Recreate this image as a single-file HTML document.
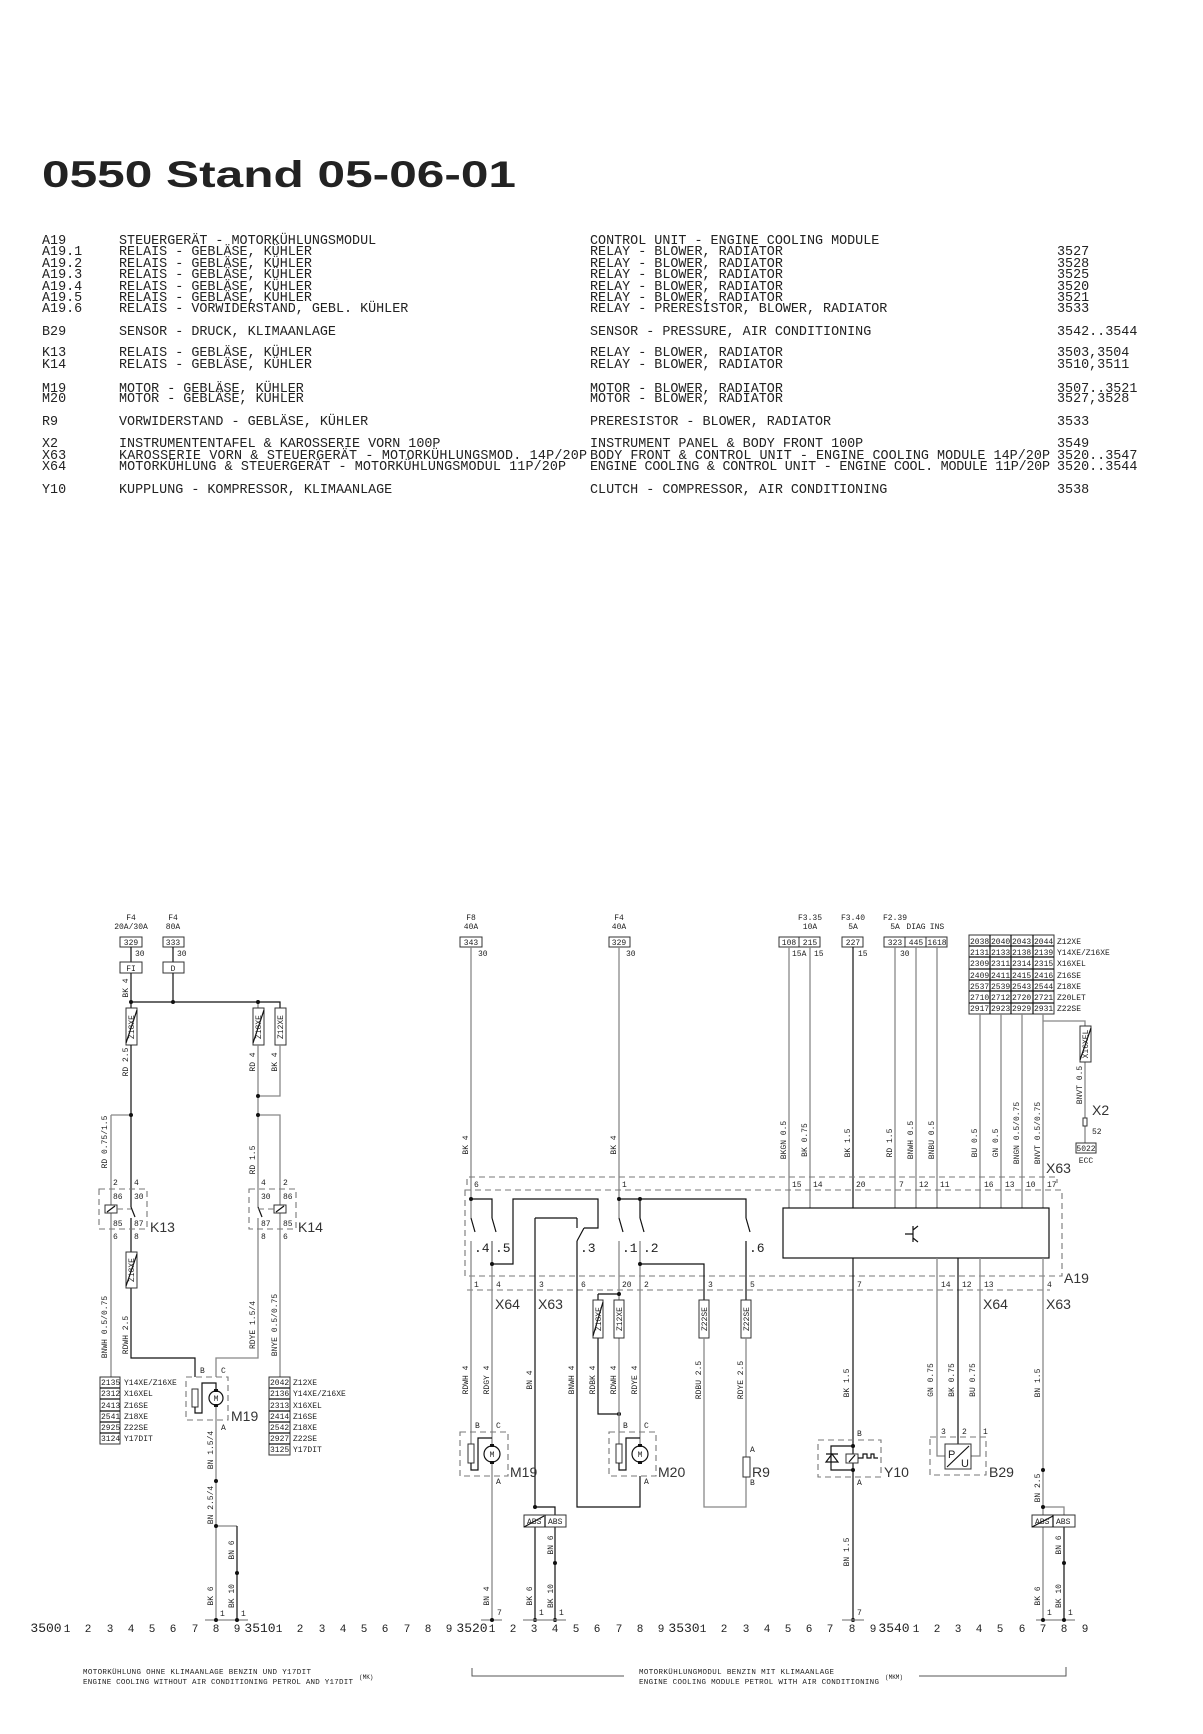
<!DOCTYPE html>
<html><head><meta charset="utf-8"><style>
html,body{margin:0;padding:0;background:#fff;}
svg{display:block}
.g{stroke:#888;stroke-width:1.3;fill:none}
.k{stroke:#111;stroke-width:1.2;fill:none}
.d{stroke:#777;stroke-width:1.1;fill:none;stroke-dasharray:6 4}
.bx{stroke:#333;stroke-width:1;fill:#fff}
text{font-family:"Liberation Mono",monospace;fill:#222}
.lg{font-size:13.4px;fill:#444}
.s{font-size:8px}
.m{text-anchor:middle}
.L{font-family:"Liberation Sans",sans-serif;font-size:14px;fill:#333}
.n{font-family:"Liberation Sans",sans-serif;font-size:11px;fill:#444}
.f{font-size:7.5px}
</style></head><body>
<svg width="1203" height="1734" viewBox="0 0 1203 1734" xmlns="http://www.w3.org/2000/svg">
<text x="42" y="187" textLength="474" lengthAdjust="spacingAndGlyphs" style="font-family:'Liberation Sans',sans-serif;font-size:37px;font-weight:bold;fill:#222">0550 Stand 05-06-01</text>

<g class="lg">
<text x="42" y="244">A19</text><text x="119" y="244">STEUERGERÄT - MOTORKÜHLUNGSMODUL</text><text x="590" y="244">CONTROL UNIT - ENGINE COOLING MODULE</text>
<text x="42" y="255">A19.1</text><text x="119" y="255">RELAIS - GEBLÄSE, KÜHLER</text><text x="590" y="255">RELAY - BLOWER, RADIATOR</text><text x="1057" y="255">3527</text>
<text x="42" y="267">A19.2</text><text x="119" y="267">RELAIS - GEBLÄSE, KÜHLER</text><text x="590" y="267">RELAY - BLOWER, RADIATOR</text><text x="1057" y="267">3528</text>
<text x="42" y="278">A19.3</text><text x="119" y="278">RELAIS - GEBLÄSE, KÜHLER</text><text x="590" y="278">RELAY - BLOWER, RADIATOR</text><text x="1057" y="278">3525</text>
<text x="42" y="290">A19.4</text><text x="119" y="290">RELAIS - GEBLÄSE, KÜHLER</text><text x="590" y="290">RELAY - BLOWER, RADIATOR</text><text x="1057" y="290">3520</text>
<text x="42" y="301">A19.5</text><text x="119" y="301">RELAIS - GEBLÄSE, KÜHLER</text><text x="590" y="301">RELAY - BLOWER, RADIATOR</text><text x="1057" y="301">3521</text>
<text x="42" y="312">A19.6</text><text x="119" y="312">RELAIS - VORWIDERSTAND, GEBL. KÜHLER</text><text x="590" y="312">RELAY - PRERESISTOR, BLOWER, RADIATOR</text><text x="1057" y="312">3533</text>
<text x="42" y="335">B29</text><text x="119" y="335">SENSOR - DRUCK, KLIMAANLAGE</text><text x="590" y="335">SENSOR - PRESSURE, AIR CONDITIONING</text><text x="1057" y="335">3542..3544</text>
<text x="42" y="356">K13</text><text x="119" y="356">RELAIS - GEBLÄSE, KÜHLER</text><text x="590" y="356">RELAY - BLOWER, RADIATOR</text><text x="1057" y="356">3503,3504</text>
<text x="42" y="368">K14</text><text x="119" y="368">RELAIS - GEBLÄSE, KÜHLER</text><text x="590" y="368">RELAY - BLOWER, RADIATOR</text><text x="1057" y="368">3510,3511</text>
<text x="42" y="392">M19</text><text x="119" y="392">MOTOR - GEBLÄSE, KÜHLER</text><text x="590" y="392">MOTOR - BLOWER, RADIATOR</text><text x="1057" y="392">3507..3521</text>
<text x="42" y="402">M20</text><text x="119" y="402">MOTOR - GEBLÄSE, KÜHLER</text><text x="590" y="402">MOTOR - BLOWER, RADIATOR</text><text x="1057" y="402">3527,3528</text>
<text x="42" y="425">R9</text><text x="119" y="425">VORWIDERSTAND - GEBLÄSE, KÜHLER</text><text x="590" y="425">PRERESISTOR - BLOWER, RADIATOR</text><text x="1057" y="425">3533</text>
<text x="42" y="447">X2</text><text x="119" y="447">INSTRUMENTENTAFEL &amp; KAROSSERIE VORN 100P</text><text x="590" y="447">INSTRUMENT PANEL &amp; BODY FRONT 100P</text><text x="1057" y="447">3549</text>
<text x="42" y="459">X63</text><text x="119" y="459" textLength="468">KAROSSERIE VORN &amp; STEUERGERÄT - MOTORKÜHLUNGSMOD. 14P/20P</text><text x="590" y="459" textLength="460">BODY FRONT &amp; CONTROL UNIT - ENGINE COOLING MODULE 14P/20P</text><text x="1057" y="459">3520..3547</text>
<text x="42" y="470">X64</text><text x="119" y="470" textLength="447">MOTORKÜHLUNG &amp; STEUERGERÄT - MOTORKÜHLUNGSMODUL 11P/20P</text><text x="590" y="470" textLength="460">ENGINE COOLING &amp; CONTROL UNIT - ENGINE COOL. MODULE 11P/20P</text><text x="1057" y="470">3520..3544</text>
<text x="42" y="493">Y10</text><text x="119" y="493">KUPPLUNG - KOMPRESSOR, KLIMAANLAGE</text><text x="590" y="493">CLUTCH - COMPRESSOR, AIR CONDITIONING</text><text x="1057" y="493">3538</text>
</g>

<!-- ===== LEFT SECTION ===== -->
<g class="s">
<text class="m" x="131" y="920">F4</text><text class="m" x="131" y="929">20A/30A</text>
<text class="m" x="173" y="920">F4</text><text class="m" x="173" y="929">80A</text>
<text x="135" y="956">30</text><text x="177" y="956">30</text>
</g>
<rect class="bx" x="120" y="937" width="22" height="10"/><text class="s m" x="131" y="945">329</text>
<rect class="bx" x="163" y="937" width="21" height="10"/><text class="s m" x="173" y="945">333</text>
<path class="k" d="M131 947V962M173 947V962"/>
<rect class="bx" x="120" y="962" width="22" height="11"/><text class="s m" x="131" y="971">FI</text>
<rect class="bx" x="163" y="962" width="21" height="11"/><text class="s m" x="173" y="971">D</text>
<path class="k" d="M131 973V1008M173 973V1002M131 1002H280V1008"/>
<path class="g" d="M258 1002V1008"/>
<rect class="bx" x="126" y="1008" width="11" height="37"/><rect class="bx" x="253" y="1008" width="11" height="37"/><rect class="bx" x="275" y="1008" width="11" height="37"/>
<path class="k" d="M126 1043L137 1010M253 1043L264 1010"/>
<text class="s m" transform="rotate(-90 134 1027)" x="134" y="1027">Z18XE</text>
<text class="s m" transform="rotate(-90 261 1027)" x="261" y="1027">Z18XE</text>
<text class="s m" transform="rotate(-90 283 1027)" x="283" y="1027">Z12XE</text>
<path class="k" d="M131 1045V1207M131 1218V1252M131 1288V1358H195V1377"/>
<path class="k" d="M131 1207L135 1217"/>
<path class="g" d="M111 1115H131M111 1115V1377"/>
<path class="g" d="M258 1045V1207M280 1045V1096H258M258 1218V1358H216V1377M258 1115H280V1377"/>
<path class="k" d="M258 1207L262 1217"/>
<rect class="d" x="99" y="1189" width="48" height="40"/>
<rect class="d" x="249" y="1189" width="47" height="40"/>
<rect class="bx" x="105" y="1205" width="12" height="8"/><rect class="bx" x="274" y="1205" width="12" height="8"/>
<path class="k" d="M107 1212L115 1206M276 1212L284 1206"/>
<path class="d" d="M117 1209H131M258 1209H274"/>
<g fill="#111"><circle cx="131" cy="1002" r="2"/><circle cx="173" cy="1002" r="2"/><circle cx="258" cy="1002" r="2"/><circle cx="131" cy="1115" r="2"/><circle cx="258" cy="1096" r="2"/><circle cx="258" cy="1115" r="2"/></g>
<g class="s">
<text x="113" y="1185">2</text><text x="134" y="1185">4</text><text x="113" y="1199">86</text><text x="134" y="1199">30</text>
<text x="113" y="1226">85</text><text x="134" y="1226">87</text><text x="113" y="1239">6</text><text x="134" y="1239">8</text>
<text x="261" y="1185">4</text><text x="283" y="1185">2</text><text x="261" y="1199">30</text><text x="283" y="1199">86</text>
<text x="261" y="1226">87</text><text x="283" y="1226">85</text><text x="261" y="1239">8</text><text x="283" y="1239">6</text>
</g>
<text class="L" x="150" y="1232">K13</text><text class="L" x="298" y="1232">K14</text>
<rect class="bx" x="126" y="1252" width="11" height="36"/><path class="k" d="M126 1286L137 1254"/>
<text class="s m" transform="rotate(-90 134 1270)" x="134" y="1270">Z18XE</text>
<g class="s">
<text class="m" transform="rotate(-90 128 988)" x="128" y="988">BK 4</text>
<text class="m" transform="rotate(-90 128 1062)" x="128" y="1062">RD 2.5</text>
<text class="m" transform="rotate(-90 107 1142)" x="107" y="1142">RD 0.75/1.5</text>
<text class="m" transform="rotate(-90 255 1062)" x="255" y="1062">RD 4</text>
<text class="m" transform="rotate(-90 277 1062)" x="277" y="1062">BK 4</text>
<text class="m" transform="rotate(-90 255 1160)" x="255" y="1160">RD 1.5</text>
<text class="m" transform="rotate(-90 107 1327)" x="107" y="1327">BNWH 0.5/0.75</text>
<text class="m" transform="rotate(-90 128 1335)" x="128" y="1335">RDWH 2.5</text>
<text class="m" transform="rotate(-90 255 1325)" x="255" y="1325">RDYE 1.5/4</text>
<text class="m" transform="rotate(-90 277 1325)" x="277" y="1325">BNYE 0.5/0.75</text>
</g>
<g class="s">
<rect class="bx" x="100" y="1377" width="20" height="67"/>
<path class="k" d="M100 1388H120M100 1399H120M100 1411H120M100 1422H120M100 1433H120"/>
<text x="101" y="1385">2135</text><text x="124" y="1385">Y14XE/Z16XE</text>
<text x="101" y="1396">2312</text><text x="124" y="1396">X16XEL</text>
<text x="101" y="1408">2413</text><text x="124" y="1408">Z16SE</text>
<text x="101" y="1419">2541</text><text x="124" y="1419">Z18XE</text>
<text x="101" y="1430">2925</text><text x="124" y="1430">Z22SE</text>
<text x="101" y="1441">3124</text><text x="124" y="1441">Y17DIT</text>
<rect class="bx" x="269" y="1377" width="21" height="78"/>
<path class="k" d="M269 1388H290M269 1399H290M269 1411H290M269 1422H290M269 1433H290M269 1444H290"/>
<text x="270" y="1385">2042</text><text x="293" y="1385">Z12XE</text>
<text x="270" y="1396">2136</text><text x="293" y="1396">Y14XE/Z16XE</text>
<text x="270" y="1408">2313</text><text x="293" y="1408">X16XEL</text>
<text x="270" y="1419">2414</text><text x="293" y="1419">Z16SE</text>
<text x="270" y="1430">2542</text><text x="293" y="1430">Z18XE</text>
<text x="270" y="1441">2927</text><text x="293" y="1441">Z22SE</text>
<text x="270" y="1452">3125</text><text x="293" y="1452">Y17DIT</text>
</g>
<rect class="d" x="186" y="1377" width="42" height="43"/>
<rect class="bx" x="192" y="1389" width="6" height="18"/>
<path class="k" d="M195 1407V1413H202V1383H216V1390"/>
<circle cx="216" cy="1398" r="7" class="k" fill="#fff"/><text class="s m" x="216" y="1401">M</text>
<rect x="214" y="1389" width="4" height="3" fill="#111"/><rect x="214" y="1404" width="4" height="3" fill="#111"/>
<path class="g" d="M216 1407V1620M216 1526H237"/><path class="k" d="M237 1526V1620"/>
<path class="g" d="M205 1620H248"/>
<g fill="#111"><circle cx="216" cy="1481" r="2"/><circle cx="216" cy="1526" r="2"/><circle cx="237" cy="1573" r="2"/><circle cx="216" cy="1620" r="2"/><circle cx="237" cy="1620" r="2"/></g>
<g class="s">
<text x="200" y="1373">B</text><text x="221" y="1373">C</text><text x="221" y="1430">A</text>
<text x="220" y="1616">1</text><text x="241" y="1616">1</text>
<text class="m" transform="rotate(-90 213 1450)" x="213" y="1450">BN 1.5/4</text>
<text class="m" transform="rotate(-90 213 1505)" x="213" y="1505">BN 2.5/4</text>
<text class="m" transform="rotate(-90 234 1550)" x="234" y="1550">BN 6</text>
<text class="m" transform="rotate(-90 213 1596)" x="213" y="1596">BK 6</text>
<text class="m" transform="rotate(-90 234 1596)" x="234" y="1596">BK 10</text>
</g>
<text class="L" x="231" y="1421">M19</text>

<!-- ===== MIDDLE / RIGHT SECTION ===== -->
<g class="s">
<text class="m" x="471" y="920">F8</text><text class="m" x="471" y="929">40A</text>
<text class="m" x="619" y="920">F4</text><text class="m" x="619" y="929">40A</text>
<text class="m" x="810" y="920">F3.35</text><text class="m" x="810" y="929">10A</text>
<text class="m" x="853" y="920">F3.40</text><text class="m" x="853" y="929">5A</text>
<text class="m" x="895" y="920">F2.39</text><text class="m" x="895" y="929">5A</text><text class="m" x="916" y="929">DIAG</text><text class="m" x="937" y="929">INS</text>
<text x="478" y="956">30</text><text x="626" y="956">30</text><text x="792" y="956">15A</text><text x="814" y="956">15</text><text x="858" y="956">15</text><text x="900" y="956">30</text>
</g>
<rect class="bx" x="460" y="937" width="22" height="10"/><text class="s m" x="471" y="945">343</text>
<rect class="bx" x="609" y="937" width="21" height="10"/><text class="s m" x="619" y="945">329</text>
<rect class="bx" x="779" y="937" width="20" height="10"/><text class="s m" x="789" y="945">108</text>
<rect class="bx" x="799" y="937" width="21" height="10"/><text class="s m" x="810" y="945">215</text>
<rect class="bx" x="842" y="937" width="21" height="10"/><text class="s m" x="853" y="945">227</text>
<rect class="bx" x="884" y="937" width="21" height="10"/><text class="s m" x="895" y="945">323</text>
<rect class="bx" x="905" y="937" width="21" height="10"/><text class="s m" x="916" y="945">445</text>
<rect class="bx" x="926" y="937" width="21" height="10"/><text class="s m" x="937" y="945">1618</text>
<rect class="bx" x="969" y="935" width="85" height="79"/>
<path class="k" d="M969 946H1054M969 957H1054M969 969H1054M969 980H1054M969 991H1054M969 1003H1054M990 935V1014M1011 935V1014M1033 935V1014"/>
<g class="s">
<text x="970" y="944">2038</text><text x="991" y="944">2040</text><text x="1012" y="944">2043</text><text x="1034" y="944">2044</text><text x="1057" y="944">Z12XE</text>
<text x="970" y="955">2131</text><text x="991" y="955">2133</text><text x="1012" y="955">2138</text><text x="1034" y="955">2139</text><text x="1057" y="955">Y14XE/Z16XE</text>
<text x="970" y="966">2309</text><text x="991" y="966">2311</text><text x="1012" y="966">2314</text><text x="1034" y="966">2315</text><text x="1057" y="966">X16XEL</text>
<text x="970" y="978">2409</text><text x="991" y="978">2411</text><text x="1012" y="978">2415</text><text x="1034" y="978">2416</text><text x="1057" y="978">Z16SE</text>
<text x="970" y="989">2537</text><text x="991" y="989">2539</text><text x="1012" y="989">2543</text><text x="1034" y="989">2544</text><text x="1057" y="989">Z18XE</text>
<text x="970" y="1000">2710</text><text x="991" y="1000">2712</text><text x="1012" y="1000">2720</text><text x="1034" y="1000">2721</text><text x="1057" y="1000">Z20LET</text>
<text x="970" y="1011">2917</text><text x="991" y="1011">2923</text><text x="1012" y="1011">2929</text><text x="1034" y="1011">2931</text><text x="1057" y="1011">Z22SE</text>
</g>
<path class="g" d="M471 947V1218M619 947V1218M789 947V1208M810 947V1208M895 947V1208M916 947V1208M937 947V1208M980 1014V1208M1001 1014V1208M1022 1014V1208M1043 1014V1208M1043 1021H1085V1026M1085 1062V1118M1085 1126V1143"/>
<path class="k" d="M853 947V1208"/>
<rect class="bx" x="1080" y="1026" width="11" height="36"/><path class="k" d="M1080 1060L1091 1028"/>
<text class="s m" transform="rotate(-90 1088 1044)" x="1088" y="1044">X16XEL</text>
<rect class="bx" x="1083" y="1118" width="4" height="8"/>
<rect class="bx" x="1076" y="1143" width="20" height="10"/><text class="s m" x="1086" y="1151">5022</text>
<text class="s m" x="1086" y="1163">ECC</text><text class="s" x="1092" y="1134">52</text>
<text class="L" x="1092" y="1115">X2</text>
<g class="s">
<text class="m" transform="rotate(-90 468 1145)" x="468" y="1145">BK 4</text>
<text class="m" transform="rotate(-90 616 1145)" x="616" y="1145">BK 4</text>
<text class="m" transform="rotate(-90 786 1140)" x="786" y="1140">BKGN 0.5</text>
<text class="m" transform="rotate(-90 807 1140)" x="807" y="1140">BK 0.75</text>
<text class="m" transform="rotate(-90 850 1143)" x="850" y="1143">BK 1.5</text>
<text class="m" transform="rotate(-90 892 1143)" x="892" y="1143">RD 1.5</text>
<text class="m" transform="rotate(-90 913 1140)" x="913" y="1140">BNWH 0.5</text>
<text class="m" transform="rotate(-90 934 1140)" x="934" y="1140">BNBU 0.5</text>
<text class="m" transform="rotate(-90 977 1143)" x="977" y="1143">BU 0.5</text>
<text class="m" transform="rotate(-90 998 1143)" x="998" y="1143">GN 0.5</text>
<text class="m" transform="rotate(-90 1019 1133)" x="1019" y="1133">BNGN 0.5/0.75</text>
<text class="m" transform="rotate(-90 1040 1133)" x="1040" y="1133">BNVT 0.5/0.75</text>
<text class="m" transform="rotate(-90 1082 1085)" x="1082" y="1085">BNVT 0.5</text>
</g>
<path class="d" d="M467 1185V1177H1057V1183M465 1190H1062V1276H465ZM467 1290H1050"/>
<text class="L" x="1046" y="1173">X63</text><text class="L" x="1064" y="1283">A19</text>
<g class="s">
<text x="474" y="1187">6</text><text x="622" y="1187">1</text><text x="792" y="1187">15</text><text x="813" y="1187">14</text><text x="856" y="1187">20</text><text x="899" y="1187">7</text><text x="919" y="1187">12</text><text x="940" y="1187">11</text><text x="984" y="1187">16</text><text x="1005" y="1187">13</text><text x="1026" y="1187">10</text><text x="1047" y="1187">17</text>
<text x="474" y="1287">1</text><text x="496" y="1287">4</text><text x="539" y="1287">3</text><text x="581" y="1287">6</text><text x="622" y="1287">20</text><text x="644" y="1287">2</text><text x="708" y="1287">3</text><text x="750" y="1287">5</text><text x="857" y="1287">7</text><text x="941" y="1287">14</text><text x="962" y="1287">12</text><text x="984" y="1287">13</text><text x="1047" y="1287">4</text>
</g>
<text class="L" x="495" y="1309">X64</text><text class="L" x="538" y="1309">X63</text><text class="L" x="983" y="1309">X64</text><text class="L" x="1046" y="1309">X63</text>
<rect x="783" y="1208" width="266" height="50" fill="#fff" stroke="#111" stroke-width="1.2"/>
<path class="k" d="M913 1226V1242M905 1234H913M913 1230L918 1226M913 1238L918 1242"/>
<path class="k" d="M471 1199H492V1218M492 1241V1264H513V1199H598V1228H584M577 1218V1228M535 1218H577M619 1199H746V1218M640 1199V1218M640 1264H704V1300M746 1241V1300M535 1218V1507M577 1241V1507H640V1476"/>
<path class="k" d="M471 1218L475 1232M492 1218L496 1232M577 1241L584 1228M619 1218L623 1232M640 1218L644 1232M746 1218L750 1232"/>
<path class="g" d="M471 1241V1444M492 1241V1264M492 1264V1446M492 1462V1620M619 1241V1300M640 1241V1446M481 1620H502"/>
<g class="L" style="font-size:13px"><text x="474" y="1252">.4</text><text x="495" y="1252">.5</text><text x="580" y="1252">.3</text><text x="622" y="1252">.1</text><text x="643" y="1252">.2</text><text x="749" y="1252">.6</text></g>
<g fill="#111"><circle cx="471" cy="1199" r="2"/><circle cx="492" cy="1264" r="2"/><circle cx="619" cy="1199" r="2"/><circle cx="640" cy="1199" r="2"/><circle cx="640" cy="1264" r="2"/><circle cx="619" cy="1294" r="2"/><circle cx="619" cy="1414" r="2"/><circle cx="535" cy="1507" r="2"/><circle cx="555" cy="1563" r="2"/><circle cx="492" cy="1620" r="2"/><circle cx="535" cy="1620" r="2"/><circle cx="555" cy="1620" r="2"/></g>
<rect class="d" x="460" y="1432" width="48" height="44"/>
<rect class="bx" x="468" y="1444" width="6" height="19"/>
<path class="k" d="M471 1463V1470H478V1438H492"/>
<circle cx="492" cy="1454" r="8" class="k" fill="#fff"/><text class="s m" x="492" y="1457">M</text>
<rect x="490" y="1444" width="4" height="3" fill="#111"/><rect x="490" y="1461" width="4" height="3" fill="#111"/>
<text class="L" x="510" y="1477">M19</text>
<g class="s"><text x="475" y="1428">B</text><text x="496" y="1428">C</text><text x="496" y="1484">A</text><text x="497" y="1615">7</text></g>
<path class="k" d="M535 1507H555V1515M535 1527V1620M555 1527V1620"/>
<rect class="bx" x="524" y="1515" width="42" height="12"/><path class="k" d="M545 1515V1527M524 1527L544 1516"/>
<text class="s" x="527" y="1524">ABS</text><text class="s" x="548" y="1524">ABS</text>
<path class="g" d="M523 1620H566"/><text class="s" x="539" y="1615">1</text><text class="s" x="559" y="1615">1</text>
<path class="k" d="M598 1294H619M598 1294V1300M598 1338V1414H619"/>
<path class="g" d="M619 1338V1444"/>
<rect class="bx" x="593" y="1300" width="10" height="38"/><path class="k" d="M593 1336L603 1302"/>
<rect class="bx" x="614" y="1300" width="10" height="38"/>
<text class="s m" transform="rotate(-90 601 1319)" x="601" y="1319">Z18XE</text>
<text class="s m" transform="rotate(-90 622 1319)" x="622" y="1319">Z12XE</text>
<rect class="d" x="609" y="1432" width="47" height="44"/>
<rect class="bx" x="616" y="1444" width="6" height="19"/>
<path class="k" d="M619 1463V1470H626V1438H640"/>
<circle cx="640" cy="1454" r="8" class="k" fill="#fff"/><text class="s m" x="640" y="1457">M</text>
<rect x="638" y="1444" width="4" height="3" fill="#111"/><rect x="638" y="1461" width="4" height="3" fill="#111"/>
<text class="L" x="658" y="1477">M20</text>
<g class="s"><text x="623" y="1428">B</text><text x="644" y="1428">C</text><text x="644" y="1484">A</text></g>
<rect class="bx" x="699" y="1300" width="10" height="38"/><rect class="bx" x="741" y="1300" width="10" height="38"/>
<text class="s m" transform="rotate(-90 707 1319)" x="707" y="1319">Z22SE</text>
<text class="s m" transform="rotate(-90 749 1319)" x="749" y="1319">Z22SE</text>
<path class="g" d="M704 1338V1507H746V1477M746 1338V1457"/>
<rect class="bx" x="743" y="1457" width="7" height="20"/>
<text class="L" x="752" y="1477">R9</text><text class="s" x="750" y="1452">A</text><text class="s" x="750" y="1485">B</text>
<path class="k" d="M853 1258V1620M853 1446H831V1470H853"/>
<rect class="d" x="818" y="1440" width="63" height="37"/>
<path class="k" d="M826 1462H838L832 1454ZM826 1454H838"/>
<rect class="bx" x="846" y="1454" width="12" height="9"/><path class="k" d="M849 1462L855 1455M858 1458H863V1454H867V1458H871V1454H874V1458H878"/>
<g fill="#111"><circle cx="853" cy="1446" r="2"/><circle cx="853" cy="1470" r="2"/><circle cx="853" cy="1620" r="2"/></g>
<text class="L" x="884" y="1477">Y10</text><text class="s" x="857" y="1436">B</text><text class="s" x="857" y="1485">A</text>
<path class="g" d="M842 1620H864"/><text class="s" x="857" y="1615">7</text>
<path class="g" d="M937 1258V1456H945M980 1258V1456H971"/><path class="k" d="M958 1258V1444"/>
<rect class="d" x="930" y="1437" width="56" height="38"/>
<rect class="bx" x="945" y="1444" width="26" height="25"/><path class="k" d="M947 1467L969 1446"/>
<text x="948" y="1458" style="font-family:'Liberation Sans';font-size:11px">P</text><text x="961" y="1467" style="font-family:'Liberation Sans';font-size:11px">U</text>
<text class="L" x="989" y="1477">B29</text>
<g class="s"><text x="941" y="1434">3</text><text x="962" y="1434">2</text><text x="983" y="1434">1</text></g>
<path class="g" d="M1043 1258V1620M1043 1507H1064V1515"/>
<path class="k" d="M1064 1527V1620"/>
<rect class="bx" x="1032" y="1515" width="43" height="12"/><path class="k" d="M1053 1515V1527M1032 1527L1053 1516"/>
<text class="s" x="1035" y="1524">ABS</text><text class="s" x="1056" y="1524">ABS</text>
<path class="g" d="M1036 1620H1075"/>
<g fill="#111"><circle cx="1043" cy="1470" r="2"/><circle cx="1043" cy="1507" r="2"/><circle cx="1064" cy="1563" r="2"/><circle cx="1043" cy="1620" r="2"/><circle cx="1064" cy="1620" r="2"/></g>
<text class="s" x="1047" y="1615">1</text><text class="s" x="1068" y="1615">1</text>
<g class="s">
<text class="m" transform="rotate(-90 468 1380)" x="468" y="1380">RDWH 4</text>
<text class="m" transform="rotate(-90 489 1380)" x="489" y="1380">RDGY 4</text>
<text class="m" transform="rotate(-90 532 1380)" x="532" y="1380">BN 4</text>
<text class="m" transform="rotate(-90 574 1380)" x="574" y="1380">BNWH 4</text>
<text class="m" transform="rotate(-90 595 1380)" x="595" y="1380">RDBK 4</text>
<text class="m" transform="rotate(-90 616 1380)" x="616" y="1380">RDWH 4</text>
<text class="m" transform="rotate(-90 637 1380)" x="637" y="1380">RDYE 4</text>
<text class="m" transform="rotate(-90 701 1380)" x="701" y="1380">RDBU 2.5</text>
<text class="m" transform="rotate(-90 743 1380)" x="743" y="1380">RDYE 2.5</text>
<text class="m" transform="rotate(-90 849 1383)" x="849" y="1383">BK 1.5</text>
<text class="m" transform="rotate(-90 933 1380)" x="933" y="1380">GN 0.75</text>
<text class="m" transform="rotate(-90 954 1380)" x="954" y="1380">BK 0.75</text>
<text class="m" transform="rotate(-90 975 1380)" x="975" y="1380">BU 0.75</text>
<text class="m" transform="rotate(-90 1040 1383)" x="1040" y="1383">BN 1.5</text>
<text class="m" transform="rotate(-90 489 1596)" x="489" y="1596">BN 4</text>
<text class="m" transform="rotate(-90 532 1596)" x="532" y="1596">BK 6</text>
<text class="m" transform="rotate(-90 553 1545)" x="553" y="1545">BN 6</text>
<text class="m" transform="rotate(-90 553 1596)" x="553" y="1596">BK 10</text>
<text class="m" transform="rotate(-90 849 1552)" x="849" y="1552">BN 1.5</text>
<text class="m" transform="rotate(-90 1040 1488)" x="1040" y="1488">BN 2.5</text>
<text class="m" transform="rotate(-90 1040 1596)" x="1040" y="1596">BK 6</text>
<text class="m" transform="rotate(-90 1061 1545)" x="1061" y="1545">BN 6</text>
<text class="m" transform="rotate(-90 1061 1596)" x="1061" y="1596">BK 10</text>
</g>

<g class="n" text-anchor="middle">
<text x="46" y="1632" style="font-size:13px">3500</text>
<text x="67" y="1632">1</text><text x="88" y="1632">2</text><text x="110" y="1632">3</text><text x="131" y="1632">4</text><text x="152" y="1632">5</text><text x="173" y="1632">6</text><text x="195" y="1632">7</text><text x="216" y="1632">8</text><text x="237" y="1632">9</text>
<text x="260" y="1632" style="font-size:13px">3510</text>
<text x="279" y="1632">1</text><text x="300" y="1632">2</text><text x="322" y="1632">3</text><text x="343" y="1632">4</text><text x="364" y="1632">5</text><text x="385" y="1632">6</text><text x="407" y="1632">7</text><text x="428" y="1632">8</text><text x="449" y="1632">9</text>
<text x="472" y="1632" style="font-size:13px">3520</text>
<text x="492" y="1632">1</text><text x="513" y="1632">2</text><text x="534" y="1632">3</text><text x="555" y="1632">4</text><text x="576" y="1632">5</text><text x="597" y="1632">6</text><text x="619" y="1632">7</text><text x="640" y="1632">8</text><text x="661" y="1632">9</text>
<text x="684" y="1632" style="font-size:13px">3530</text>
<text x="703" y="1632">1</text><text x="724" y="1632">2</text><text x="746" y="1632">3</text><text x="767" y="1632">4</text><text x="788" y="1632">5</text><text x="809" y="1632">6</text><text x="830" y="1632">7</text><text x="852" y="1632">8</text><text x="873" y="1632">9</text>
<text x="894" y="1632" style="font-size:13px">3540</text>
<text x="916" y="1632">1</text><text x="937" y="1632">2</text><text x="958" y="1632">3</text><text x="979" y="1632">4</text><text x="1000" y="1632">5</text><text x="1022" y="1632">6</text><text x="1043" y="1632">7</text><text x="1064" y="1632">8</text><text x="1085" y="1632">9</text>
</g>
<g class="f">
<text x="83" y="1674" textLength="228">MOTORKÜHLUNG OHNE KLIMAANLAGE BENZIN UND Y17DIT</text>
<text x="83" y="1684" textLength="270">ENGINE COOLING WITHOUT AIR CONDITIONING PETROL AND Y17DIT</text>
<text x="359" y="1679" style="font-size:6px">(MK)</text>
<text x="639" y="1674" textLength="195">MOTORKÜHLUNGMODUL BENZIN MIT KLIMAANLAGE</text>
<text x="639" y="1684" textLength="240">ENGINE COOLING MODULE PETROL WITH AIR CONDITIONING</text>
<text x="885" y="1679" style="font-size:6px">(MKM)</text>
</g>
<path d="M472 1668V1676H624M919 1676H1066V1667" stroke="#555" stroke-width="1" fill="none"/>
</svg>
</body></html>
